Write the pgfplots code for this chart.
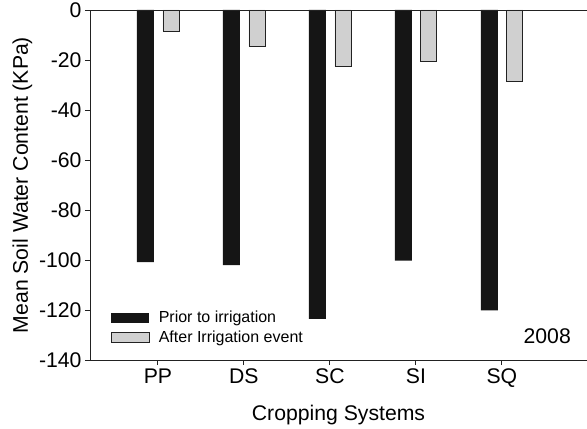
\documentclass[border=0pt]{standalone}
\usepackage{pgfplots}
\pgfplotsset{compat=1.18}
\usepackage{fontspec}
\setmainfont{Liberation Sans}
\definecolor{barblack}{HTML}{151515}
\definecolor{bargray}{HTML}{D0D0D0}
\definecolor{axgray}{HTML}{222222}
\newcommand{\bigf}{\fontsize{21.2bp}{25bp}\selectfont}
\newcommand{\legf}{\fontsize{16bp}{19bp}\selectfont}
\begin{document}
\begin{tikzpicture}
\begin{axis}[
  scale only axis,
  width=497bp, height=350bp,
  xmin=-0.79, xmax=4.99,
  ymin=-140, ymax=0,
  axis x line*=bottom,
  axis y line*=left,
  axis line style={axgray, line width=0.9bp},
  every tick/.style={axgray, line width=0.9bp},
  tick align=outside,
  major tick length=5bp,
  xtick={0,1,2,3,4},
  xticklabels={PP,DS,SC,SI,SQ},
  ytick={-140,-120,-100,-80,-60,-40,-20,0},
  /pgf/number format/assume math mode=true,
  ticklabel style={font=\bigf},
  label style={font=\bigf},
  xlabel={Cropping Systems},
  xlabel style={yshift=-11bp},
  ylabel={Mean Soil Water Content (KPa)},
  legend style={draw=none, fill=none, inner sep=0pt, outer sep=0pt,
    at={(rel axis cs:0,0)}, anchor=south west, xshift=21bp, yshift=16.5bp,
    font=\legf, row sep=6bp,
    nodes={inner sep=0pt, anchor=west},
    /tikz/every odd column/.append style={column sep=9bp}},
  legend cell align=left,
  clip=false,
]
\addplot[ybar, bar width=17bp, bar shift=-12.5bp, fill=barblack, draw=none,
  legend image code/.code={\fill[barblack] (0bp,-5bp) rectangle (38bp,5bp);}]
  coordinates {(0,-100.9) (1,-102) (2,-123.5) (3,-100.3) (4,-120.1)};
\addlegendentry{Prior to irrigation}
\addplot[ybar, bar width=16bp, bar shift=13bp, fill=bargray, draw=axgray, line width=0.8bp,
  legend image code/.code={\draw[fill=bargray, draw=axgray, line width=0.8bp] (0bp,-5bp) rectangle (38bp,5bp);}]
  coordinates {(0,-8.4) (1,-14.5) (2,-22.7) (3,-20.4) (4,-28.5)};
\addlegendentry{After Irrigation event}
\draw[axgray, line width=0.9bp] (rel axis cs:0,1) -- (rel axis cs:1,1);
\node[anchor=east, font=\bigf, inner sep=0pt] at ([xshift=-16bp, yshift=24bp]rel axis cs:1,0) {2008};
\end{axis}
\pgfresetboundingbox
\path (-90bp,-69bp) rectangle (497bp,360bp);
\end{tikzpicture}
\end{document}
